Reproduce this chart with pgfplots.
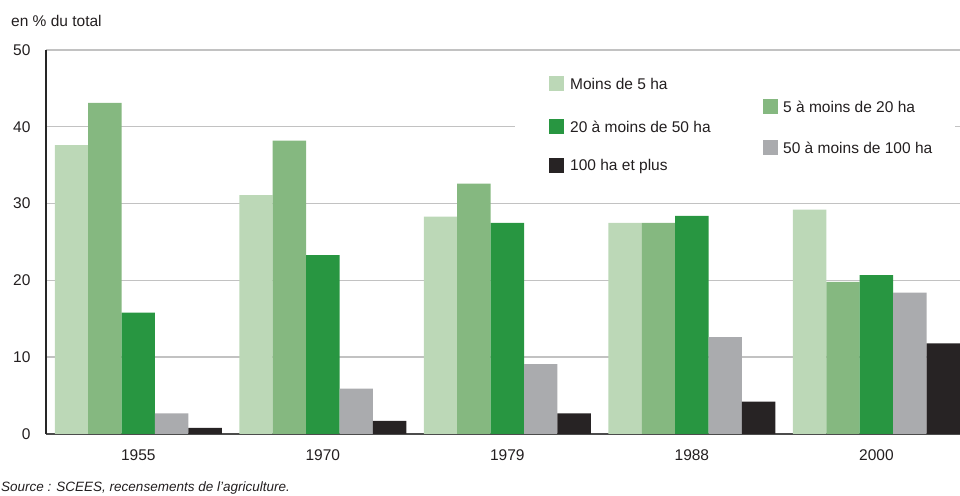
\documentclass[border=0pt]{standalone}
\usepackage{fontspec}
\setmainfont{Liberation Sans}
\usepackage{pgfplots}
\pgfplotsset{compat=1.18}
\usepackage{pgfplotstable}

\definecolor{cA}{HTML}{BCD8B7}
\definecolor{cB}{HTML}{85B880}
\definecolor{cC}{HTML}{289641}
\definecolor{cD}{HTML}{AAABAE}
\definecolor{cE}{HTML}{272324}
\definecolor{gridgray}{HTML}{C2C2C2}
\definecolor{txt}{HTML}{231F20}

% x: 0=1955, 1=1970, 2=1979, 3=1988, 4=2000
\pgfplotstableread{
x  a     b     c     d     e
0  37.6  43.1  15.8  2.7   0.8
1  31.1  38.2  23.3  5.9   1.7
2  28.3  32.6  27.5  9.1   2.7
3  27.5  27.5  28.4  12.6  4.2
4  29.2  19.8  20.7  18.4  11.8
}\exploitations

\begin{document}
\begin{tikzpicture}[x=1pt,y=1pt]
\useasboundingbox (0,0) rectangle (960,495);
\clip (0,0) rectangle (960,495);
\begin{axis}[
  at={(46pt,61pt)}, anchor=south west,
  scale only axis, width=914pt, height=384pt,
  ybar=0pt, bar width=0.181,
  xmin=-0.5, xmax=4.453, ymin=0, ymax=50,
  xtick={0,1,2,3,4},
  xticklabels={1955,1970,1979,1988,2000},
  ytick={0,10,20,30,40,50},
  major tick length=0pt,
  ymajorgrids=true,
  grid style={gridgray, line width=1.4pt},
  axis x line*=bottom, axis y line*=left,
  x axis line style={-, draw=black!70, line width=2pt},
  y axis line style={-, draw=black!85, line width=1.2pt},
  ticklabel style={font=\fontsize{15.5}{18}\selectfont, text=txt},
  yticklabel style={anchor=east, xshift=-12pt},
  xticklabel style={yshift=-12pt},
  /pgf/number format/assume math mode=true,
  clip=true,
]
\addplot[fill=cA, draw=none] table[x=x, y=a] {\exploitations};
\addplot[fill=cB, draw=none] table[x=x, y=b] {\exploitations};
\addplot[fill=cC, draw=none] table[x=x, y=c] {\exploitations};
\addplot[fill=cD, draw=none] table[x=x, y=d] {\exploitations};
\addplot[fill=cE, draw=none] table[x=x, y=e] {\exploitations};
\end{axis}

% legend (staggered, two columns)
\fill[white] (515,305) rectangle (955,435);
\begin{scope}[every node/.style={anchor=west, inner sep=0pt, text=txt,
    font=\fontsize{15.5}{18}\selectfont}]
\fill[cA] (549,403.5) rectangle (564,418.5);
\node at (570,411) {Moins de 5 ha};
\fill[cC] (549,360.5) rectangle (564,375.5);
\node at (570,368) {20 à moins de 50 ha};
\fill[cE] (549,321.5) rectangle (564,336.5);
\node at (570,329) {100 ha et plus};
\fill[cB] (763,380.5) rectangle (778,395.5);
\node at (783,388) {5 à moins de 20 ha};
\fill[cD] (763,339.5) rectangle (778,354.5);
\node at (783,347) {50 à moins de 100 ha};
\end{scope}

\node[anchor=base west, inner sep=0pt, text=txt,
  font=\fontsize{15.5}{18}\selectfont] at (11,468) {en \% du total};
\node[anchor=base west, inner sep=0pt, text=txt,
  font=\fontsize{13.5}{15}\selectfont\itshape] at (1,4)
  {Source : SCEES, recensements de l'agriculture.};
\end{tikzpicture}
\end{document}
